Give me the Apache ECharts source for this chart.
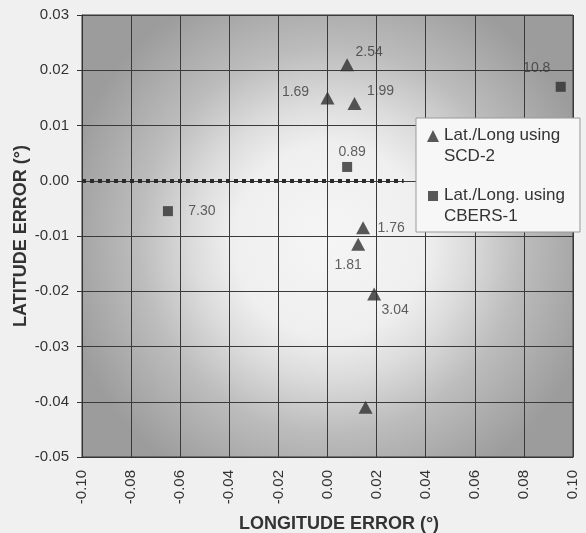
<!DOCTYPE html>
<html>
<head>
<meta charset="utf-8">
<script src="https://cdn.jsdelivr.net/npm/echarts@6/dist/echarts.min.js"></script>
<style>
html,body{margin:0;padding:0;background:#f0f0f0;}
#chart{width:586px;height:533px;}
</style>
</head>
<body>
<div id="chart"></div>
<script>
// SCD-2 points
var scdX = [0.008, 0.000, 0.011, 0.0145, 0.0125, 0.019, 0.0155];
var scdY = [0.021, 0.015, 0.014, -0.0085, -0.0115, -0.0205, -0.041];
var scdLabels = ['2.54', '1.69', '1.99', '1.76', '1.81', '3.04', ''];
// CBERS-1 points
var cbersX = [0.008, 0.095, -0.065];
var cbersY = [0.0025, 0.017, -0.0055];
var cbersLabels = ['0.89', '10.8', '7.30'];
// zero reference line extent
var zeroLineX = [-0.10, 0.031];
var zeroLineY = 0;

var xTicks = [-0.10, 0.10, 0.02];
var yTicks = [-0.05, 0.03, 0.01];

// label offsets (label centre relative to marker centre)
var scdLabelOffset = [[22, -13], [-32, -6], [26, -12], [28, 0], [-10, 21], [21, 16], [0, 0]];
var cbersLabelOffset = [[5, -15], [-24, -19], [34, 0]];

var FONT = 'Liberation Sans, Arial, sans-serif';

function build(xs, ys, labels, offsets) {
  return xs.map(function (x, i) {
    return {
      value: [x, ys[i]],
      label: {
        show: labels[i] !== '',
        formatter: labels[i],
        position: 'inside',
        align: 'center',
        verticalAlign: 'middle',
        offset: offsets[i],
        fontFamily: FONT,
        fontSize: 14,
        color: '#3a3a3a'
      }
    };
  });
}

var chart = echarts.init(document.getElementById('chart'));
chart.setOption({
  backgroundColor: '#f0f0f0',
  animation: false,
  grid: {
    left: 82, top: 15, width: 491, height: 442,
    outerBoundsMode: 'none',
    containLabel: false,
    show: true,
    borderColor: '#333',
    borderWidth: 1,
    backgroundColor: {
      type: 'radial', x: 0.505, y: 0.51, r: 0.62,
      colorStops: [
        {offset: 0, color: '#f5f5f5'},
        {offset: 0.35, color: '#efefef'},
        {offset: 0.5, color: '#dcdcdc'},
        {offset: 0.7, color: '#bcbcbc'},
        {offset: 1, color: '#9c9c9c'}
      ]
    }
  },
  legend: {
    orient: 'vertical',
    left: 416, top: 118,
    padding: [7, 15, 5, 11],
    backgroundColor: '#f7f7f7',
    borderColor: '#9a9a9a',
    borderWidth: 1,
    itemGap: 18,
    itemWidth: 12,
    itemHeight: 42,
    textStyle: {fontFamily: FONT, fontSize: 17, color: '#333', lineHeight: 21},
    data: [
      {name: 'Lat./Long using\nSCD-2', icon: 'path://M0,0 M0,17 L6,5 L12,17 Z M12,42'},
      {name: 'Lat./Long. using\nCBERS-1', icon: 'path://M0,0 M1,6 L11,6 L11,16 L1,16 Z M12,42'}
    ]
  },
  xAxis: {
    type: 'value',
    min: xTicks[0], max: xTicks[1], interval: xTicks[2],
    name: 'LONGITUDE ERROR (°)',
    nameLocation: 'middle',
    nameGap: 58,
    nameMoveOverlap: false,
    nameTextStyle: {fontFamily: FONT, fontSize: 18, fontWeight: 'bold', color: '#333', padding: [0, 0, 0, 23]},
    axisLine: {show: true, onZero: false, lineStyle: {color: '#333'}},
    axisTick: {show: false},
    axisLabel: {rotate: 90, margin: 13, fontFamily: FONT, fontSize: 15, color: '#333',
      formatter: function (v) { return v.toFixed(2); }},
    splitLine: {show: true, lineStyle: {color: '#3a3a3a', width: 1}}
  },
  yAxis: {
    type: 'value',
    min: yTicks[0], max: yTicks[1], interval: yTicks[2],
    name: 'LATITUDE ERROR (°)',
    nameLocation: 'middle',
    nameGap: 52,
    nameMoveOverlap: false,
    nameTextStyle: {fontFamily: FONT, fontSize: 18, fontWeight: 'bold', color: '#333'},
    axisLine: {show: true, onZero: false, lineStyle: {color: '#333'}},
    axisTick: {show: true, length: 5, lineStyle: {color: '#333'}},
    axisLabel: {margin: 13, fontFamily: FONT, fontSize: 15, color: '#333',
      formatter: function (v) { return v.toFixed(2); }},
    splitLine: {show: true, lineStyle: {color: '#3a3a3a', width: 1}}
  },
  series: [
    {
      name: 'Lat./Long using\nSCD-2',
      type: 'scatter',
      symbol: 'triangle',
      symbolSize: [14, 13],
      itemStyle: {color: '#303030'},
      data: build(scdX, scdY, scdLabels, scdLabelOffset),
      markLine: {
        silent: true,
        symbol: 'none',
        label: {show: false},
        lineStyle: {color: '#2a2a2a', width: 4, type: [4, 4]},
        data: [[{coord: [zeroLineX[0], zeroLineY]}, {coord: [zeroLineX[1], zeroLineY]}]]
      }
    },
    {
      name: 'Lat./Long. using\nCBERS-1',
      type: 'scatter',
      symbol: 'rect',
      symbolSize: 10,
      itemStyle: {color: '#303030'},
      data: build(cbersX, cbersY, cbersLabels, cbersLabelOffset)
    }
  ]
});
</script>
</body>
</html>
